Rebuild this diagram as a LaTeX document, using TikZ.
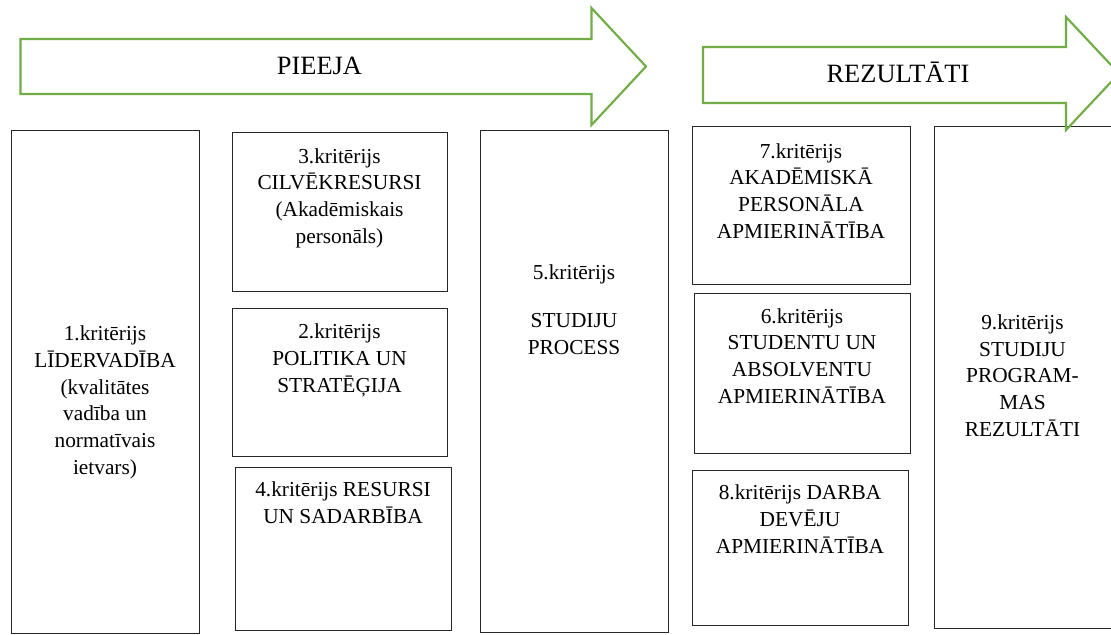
\documentclass[tikz,border=0pt]{standalone}
\usepackage{fontspec}
\setmainfont{Liberation Serif}
\usetikzlibrary{fit}
\definecolor{arrowgreen}{HTML}{70AD47}
\begin{document}
\begin{tikzpicture}[x=0.75pt,y=-0.75pt,
  box/.style={draw=black!85, line width=0.75pt, inner sep=0pt},
  lbl/.style={align=center, inner sep=0pt, anchor=base, font=\fontsize{16}{20}\selectfont},
  bigarrow/.style={draw=arrowgreen, line width=1.6pt, line join=miter},
  albl/.style={inner sep=0pt, anchor=base, font=\fontsize{19.8}{23}\selectfont}]
\useasboundingbox (0,0) rectangle (1111,635);
\fill[white] (0,0) rectangle (1111,635);
\begin{scope}
\clip (0,0) rectangle (1111,635);
% boxes
\node[box, fit={(11,131) (199,633)}] (b1) {};
\node[box, fit={(232,133) (447,291)}] (b3) {};
\node[box, fit={(232,308) (447,456)}] (b2) {};
\node[box, fit={(235,467) (451,630)}] (b4) {};
\node[box, fit={(480,131) (668,632)}] (b5) {};
\node[box, fit={(692,127) (910,284)}] (b7) {};
\node[box, fit={(694,293) (910,453)}] (b6) {};
\node[box, fit={(692,470) (908,625)}] (b8) {};
\node[box, fit={(934,127) (1111,628)}] (b9) {};
% texts (base anchor = baseline of last line)
\node[lbl] (t1) at (105,474) {1.kritērijs\\LĪDERVADĪBA\\(kvalitātes\\vadība un\\normatīvais\\ietvars)};
\node[lbl] (t3) at (339.5,243) {3.kritērijs\\CILVĒKRESURSI\\(Akadēmiskais\\personāls)};
\node[lbl] (t2) at (339.5,392) {2.kritērijs\\POLITIKA UN\\STRATĒĢIJA};
\node[lbl] (t4) at (343,523) {4.kritērijs RESURSI\\UN SADARBĪBA};
\node[lbl] (t5) at (574,354) {5.kritērijs\\[16pt]STUDIJU\\PROCESS};
\node[lbl] (t7) at (801,238) {7.kritērijs\\AKADĒMISKĀ\\PERSONĀLA\\APMIERINĀTĪBA};
\node[lbl] (t6) at (802,403) {6.kritērijs\\STUDENTU UN\\ABSOLVENTU\\APMIERINĀTĪBA};
\node[lbl] (t8) at (800,553) {8.kritērijs DARBA\\DEVĒJU\\APMIERINĀTĪBA};
\node[lbl] (t9) at (1022.5,436) {9.kritērijs\\STUDIJU\\PROGRAM-\\MAS\\REZULTĀTI};
% arrows
\draw[bigarrow] (20.5,39) -- (591.5,39) -- (591.5,8) -- (646,66.5) -- (591.5,125) -- (591.5,94) -- (20.5,94) -- cycle;
\draw[bigarrow] (703,47) -- (1066,47) -- (1066,17) -- (1119,73.5) -- (1066,130) -- (1066,103) -- (703,103) -- cycle;
\node[albl] (pieeja) at (319.5,75) {PIEEJA};
\node[albl] (rez) at (898,83) {REZULTĀTI};
\end{scope}
\end{tikzpicture}
\end{document}
